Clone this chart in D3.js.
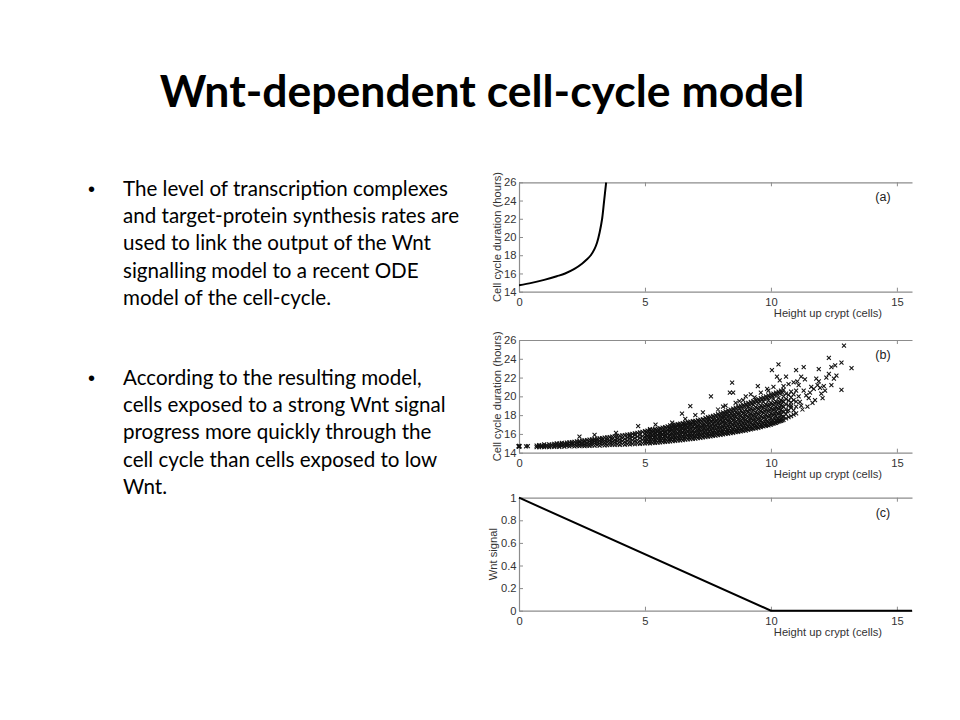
<!DOCTYPE html>
<html><head><meta charset="utf-8">
<script src="https://cdn.jsdelivr.net/npm/d3@7"></script>
<style>body{margin:0;background:#fff;} svg{display:block}</style>
</head><body>
<svg id="c" width="960" height="720"></svg>
<script>
// ---------- data ----------
const titleText = "Wnt-dependent cell-cycle model";
const bullet1 = ["The level of transcription complexes",
  "and target-protein synthesis rates are",
  "used to link the output of the Wnt",
  "signalling model to a recent ODE",
  "model of the cell-cycle."];
const bullet2 = ["According to the resulting model,",
  "cells exposed to a strong Wnt signal",
  "progress more quickly through the",
  "cell cycle than cells exposed to low",
  "Wnt."];
const xLabel = "Height up crypt (cells)";
const durationLabel = "Cell cycle duration (hours)";
const wntLabel = "Wnt signal";
const xTicks = [0, 5, 10, 15];
const durationTicks = [14, 16, 18, 20, 22, 24, 26];
const wntTicks = [0, 0.2, 0.4, 0.6, 0.8, 1];
const wntTickLabels = ["0", "0.2", "0.4", "0.6", "0.8", "1"];

// (a) deterministic cycle duration vs height
const curveX = [0, 0.5, 1, 1.5, 1.83, 2.2, 2.5, 2.7, 2.85, 3.0, 3.1, 3.2, 3.3, 3.38, 3.46];
const curveY = [14.7, 14.97, 15.3, 15.7, 16.0, 16.5, 17.07, 17.55, 18.0, 18.7, 19.4, 20.5, 22.0, 24.0, 26.0];

// (b) simulated cells: columns [x, y1, y2, ...]
const scatterCols = [
[0.7,14.6,14.75],[0.8,14.58,14.7,14.8],[0.9,14.62,14.78],[1.0,14.6,14.72,14.88],
[1.1,14.65,14.82],[1.2,14.6,14.74,14.9],[1.3,14.66,14.85],[1.4,14.62,14.76,14.95],
[1.5,14.68,14.88,14.98],[1.6,14.63,14.8,14.96],[1.7,14.7,14.9,15.05],[1.8,14.65,14.82,15.0],
[1.9,14.72,14.92,15.08],[2.0,14.67,14.85,15.1],[2.1,14.74,14.95,15.12],[2.2,14.68,14.88,15.16],
[2.3,14.72,14.98,15.2],[2.4,14.7,14.9,15.1,15.24],[2.5,14.75,15.0,15.28],[2.6,14.71,14.92,15.14,15.3],
[2.7,14.76,15.02,15.34],[2.8,14.72,14.95,15.18,15.38],[2.9,14.78,15.05,15.28,15.42],[3.0,14.74,14.98,15.22,15.45],
[3.1,14.8,15.08,15.3,15.5],[3.2,14.76,15.0,15.25,15.52],[3.3,14.82,15.1,15.35,15.56],[3.4,14.78,15.04,15.28,15.6],
[3.5,14.8,15.12,15.4,15.62],[3.6,14.82,15.06,15.32,15.66],[3.7,14.86,15.15,15.45,15.7],[3.8,14.82,15.1,15.36,15.74],
[3.9,14.88,15.2,15.5,15.78],[4.0,14.84,15.12,15.42,15.8],[4.1,14.9,15.22,15.55,15.84],[4.2,14.86,15.16,15.48,15.88],
[4.3,14.92,15.25,15.6,15.92],[4.4,14.88,15.2,15.52,15.8,15.96],[4.5,14.95,15.3,15.65,16.0],[4.6,14.9,15.22,15.56,15.86,16.05],
[4.7,14.98,15.32,15.7,16.1],[4.8,14.94,15.26,15.6,15.92,16.16],[4.9,15.0,15.36,15.75,16.22],[5.0,14.98,15.3,15.66,16.0,16.3],
[5.1,15.02,15.4,15.8,16.35],[5.2,15.0,15.34,15.7,16.05,16.4],[5.3,15.05,15.44,15.85,16.2,16.45],[5.4,15.04,15.38,15.74,16.1,16.5],
[5.5,15.08,15.48,15.9,16.28,16.55],[5.6,15.1,15.42,15.8,16.15,16.6],[5.7,15.12,15.52,15.95,16.35,16.66],[5.8,15.14,15.46,15.85,16.22,16.72],
[5.9,15.18,15.56,16.0,16.42,16.8],[6.0,15.2,15.5,15.9,16.3,16.6,16.9],[6.1,15.24,15.62,16.05,16.48,16.95],[6.2,15.26,15.56,15.95,16.36,16.7,17.0],
[6.3,15.3,15.68,16.1,16.55,17.05],[6.4,15.32,15.62,16.02,16.42,16.8,17.1],[6.5,15.35,15.74,16.18,16.6,17.15],[6.6,15.38,15.68,16.08,16.5,16.9,17.2],
[6.7,15.42,15.8,16.25,16.68,17.25],[6.8,15.45,15.74,16.14,16.56,17.0,17.3],[6.9,15.48,15.86,16.3,16.75,17.35],[7.0,15.5,15.8,16.2,16.62,17.05,17.4],
[7.1,15.55,15.92,16.38,16.82,17.46],[7.2,15.58,15.86,16.26,16.7,17.15,17.52],[7.3,15.62,16.0,16.45,16.9,17.58],[7.4,15.65,15.94,16.34,16.78,17.25,17.7],
[7.5,15.7,16.06,16.52,16.98,17.4,17.8],[7.6,15.74,16.0,16.42,16.86,17.3,17.85],[7.7,15.78,16.12,16.6,17.08,17.5,17.92],[7.8,15.82,16.08,16.5,16.95,17.4,18.0],
[7.9,15.86,16.2,16.68,17.15,17.6,18.1],[8.0,15.9,16.15,16.58,17.05,17.5,18.2],[8.1,15.95,16.28,16.76,17.25,17.72,18.3],[8.2,16.0,16.24,16.66,17.12,17.6,18.05,18.4],
[8.3,16.04,16.36,16.85,17.35,17.85,18.5],[8.4,16.08,16.32,16.75,17.22,17.7,18.15,18.6],[8.5,16.12,16.46,16.95,17.45,17.95,18.7],[8.6,16.18,16.4,16.85,17.32,17.82,18.3,18.8],
[8.7,16.22,16.56,17.05,17.55,18.1,18.9],[8.8,16.28,16.5,16.95,17.42,17.92,18.45,19.0],[8.9,16.32,16.66,17.15,17.66,18.2,19.1],[9.0,16.36,16.6,17.05,17.52,18.05,18.6,19.2],
[9.1,16.42,16.8,17.3,17.8,18.35,18.9,19.3],[9.2,16.48,16.72,17.18,17.65,18.15,18.7,19.4],[9.3,16.55,16.95,17.45,17.95,18.5,19.1,19.5],[9.4,16.6,16.85,17.3,17.78,18.3,18.85,19.6],
[9.5,16.65,17.05,17.55,18.1,18.65,19.25,19.7],[9.6,16.72,16.98,17.42,17.92,18.45,19.0,19.8],[9.7,16.8,17.15,17.7,18.25,18.8,19.4,19.9],[9.8,16.86,17.1,17.55,18.05,18.6,19.15,20.0],
[9.9,16.92,17.3,17.85,18.4,18.95,19.55,20.1],[10.0,17.0,17.25,17.7,18.2,18.75,19.3,20.2],[10.1,17.1,17.45,18.0,18.55,19.1,19.7,20.3],[10.2,17.18,17.42,17.9,18.4,18.9,19.45,20.4],
[10.3,17.3,17.65,18.15,18.7,19.25,19.85,20.5],[10.4,17.4,17.6,18.05,18.55,19.1,19.6,20.6],[10.5,17.5,17.85,18.35,18.9,19.45,20.0,20.7],[10.6,17.65,18.1,18.6,19.15,19.7,20.3],
[10.7,17.8,18.5,19.0,19.55,20.15],[10.8,17.9,18.8,19.35,19.9,20.5],[10.9,18.05,18.5,19.6,20.2],[11.0,18.2,18.9,19.45,20.6],
[5.05,15.15,15.52,15.9,16.2],[5.15,15.18,15.58,15.95,16.25],[5.25,15.2,15.6,15.98,16.3],[5.35,15.22,15.62,16.0,16.35],
[5.45,15.25,15.65,16.05,16.4],[5.55,15.28,15.68,16.08,16.45],[5.65,15.3,15.72,16.12,16.5],[5.75,15.32,15.75,16.15,16.55],
[5.85,15.35,15.78,16.2,16.6],[5.95,15.38,15.8,16.22,16.65],[6.05,15.4,15.75,16.15,16.55,16.8],[6.15,15.42,15.8,16.2,16.62,16.85],
[6.25,15.45,15.85,16.25,16.68,16.9],[6.35,15.48,15.88,16.3,16.72,16.95],[6.45,15.5,15.92,16.35,16.78,17.0],[6.55,15.55,15.95,16.4,16.82,17.05],
[6.65,15.58,16.0,16.42,16.85,17.1],[6.75,15.62,16.02,16.46,16.9,17.15],[6.85,15.65,16.06,16.5,16.95,17.2],[6.95,15.68,16.1,16.55,17.0,17.25],
[7.05,15.7,16.05,16.45,16.85,17.25],[7.15,15.74,16.12,16.52,16.95,17.32],[7.25,15.78,16.15,16.58,17.0,17.38],[7.35,15.8,16.2,16.62,17.05,17.45],
[7.45,15.84,16.24,16.68,17.12,17.55],[7.55,15.88,16.28,16.72,17.18,17.6],[7.65,15.92,16.32,16.78,17.25,17.68],[7.75,15.95,16.36,16.82,17.3,17.75],
[7.85,16.0,16.4,16.88,17.35,17.82],[7.95,16.04,16.45,16.92,17.4,17.9],[8.05,16.06,16.4,16.85,17.3,17.75,18.05],[8.15,16.1,16.46,16.92,17.38,17.85,18.15],
[8.25,16.14,16.5,16.98,17.45,17.95,18.25],[8.35,16.18,16.56,17.02,17.5,18.0,18.35],[8.45,16.22,16.6,17.08,17.58,18.05,18.45],[8.55,16.26,16.66,17.15,17.62,18.12,18.5],
[8.65,16.3,16.7,17.2,17.7,18.2,18.6],[8.75,16.35,16.75,17.25,17.75,18.25,18.7],[8.85,16.4,16.82,17.3,17.8,18.32,18.8],[8.95,16.45,16.86,17.36,17.88,18.4,18.9],
[9.05,16.5,16.9,17.4,17.92,18.45,19.0],[9.15,16.55,16.96,17.48,18.0,18.55,19.1],[9.25,16.6,17.02,17.55,18.05,18.6,19.2],[9.35,16.66,17.08,17.6,18.12,18.68,19.3],
[9.45,16.72,17.15,17.66,18.2,18.75,19.4],[9.55,16.78,17.2,17.72,18.28,18.82,19.5],[9.65,16.85,17.25,17.8,18.35,18.9,19.6],[9.75,16.9,17.32,17.85,18.42,18.98,19.7],
[9.85,16.96,17.4,17.92,18.5,19.05,19.8],[9.95,17.02,17.45,18.0,18.55,19.12,19.9],[10.05,17.1,17.52,18.08,18.62,19.2,20.0],[10.15,17.18,17.6,18.15,18.7,19.28,20.1],
[10.25,17.26,17.68,18.22,18.78,19.35,20.2],[10.35,17.35,17.75,18.3,18.85,19.42,20.3],[10.45,17.45,17.85,18.4,18.95,19.5,20.4]
];
// (b) sparse cells and outliers [x, y]
const scatterExtra = [
[0,14.67],[0.02,14.7],[0.01,14.64],[-0.02,14.68],[0.0,14.72],[0.28,14.68],[0.35,14.7],
[2.4,15.7],[3.0,15.9],[3.85,16.1],[4.73,16.84],[5.2,16.5],[5.42,17.0],[6.08,17.2],[6.47,18.15],[6.8,18.96],
[7.62,20.0],[8.37,20.4],[8.5,20.4],[8.46,21.45],[9.48,21.1],[9.85,20.8],[10.04,22.8],[10.24,22.1],[10.3,23.4],
[10.1,21.0],[10.35,21.7],[10.6,22.1],[11.0,22.8],[11.1,21.2],[11.2,22.1],[11.3,23.1],[11.4,20.1],[11.7,20.8],
[11.75,19.6],[11.8,21.9],[11.9,21.6],[11.9,22.9],[12.0,20.3],[12.3,24.1],[12.3,22.4],[12.4,23.1],[12.4,21.2],
[12.5,21.9],[12.55,23.3],[12.8,23.6],[12.8,20.7],[12.9,25.4],[13.2,23.0],
[11.2,19.0],[11.5,19.8],[11.3,20.6],[11.6,21.0],[11.1,20.0],[11.45,18.9],[11.25,18.6],[11.55,20.4],[12.1,21.1],
[12.2,22.0],[11.95,20.9],[11.65,19.3],[12.05,19.8],[11.85,21.2],[12.6,22.2],[12.15,20.6],[11.05,21.6],[11.35,21.8],
[10.9,21.5],[10.7,21.3],[10.5,21.1],[9.2,20.2],[9.6,20.4],[8.9,19.6],[8.6,19.3],[8.1,18.9],[7.3,18.3],[7.0,18.0],
[6.6,17.6],[7.9,18.6],[9.0,20.0],[9.9,20.6],[9.35,19.9],[8.2,19.0],[8.75,19.5],[10.8,19.0],[10.65,18.4],[11.15,19.4]
];

// (c) Wnt signal along crypt
const wntX = [0, 10, 15.6];
const wntY = [1, 0, 0];

// ---------- drawing ----------
const svg = d3.select("#c");
const axisFont = "'Liberation Sans', Arial, sans-serif";
const textFont = "Lato, 'Open Sans', sans-serif";
const axisFs = 11.2;

// title
const title = svg.append("text").attr("x", 482).attr("y", 107)
  .attr("text-anchor", "middle").attr("font-family", textFont)
  .attr("font-weight", 700).attr("font-size", 40).attr("fill", "#000").text(titleText);
{ const w = title.node().getComputedTextLength(); title.attr("font-size", 40 * 645 / w); }

// bullets
function bullets(lines, y0) {
  svg.append("text").attr("x", 88).attr("y", y0).attr("font-family", "Arial, sans-serif")
    .attr("font-size", 20).attr("fill", "#000").text("•");
  const t = svg.append("text").attr("font-family", textFont).attr("fill", "#000");
  lines.forEach((l, i) => t.append("tspan").attr("x", 123).attr("y", y0 + i * 27.2).text(l));
  return t;
}
const b1 = bullets(bullet1, 196);
const b2 = bullets(bullet2, 385);
b1.attr("font-size", 20); b2.attr("font-size", 20);
{ const w = b1.select("tspan").node().getComputedTextLength();
  const fs = 20 * 325 / w; b1.attr("font-size", fs); b2.attr("font-size", fs); }

const x = d3.scaleLinear().domain([0, 15.6]).range([519, 912]);
const grey = "#8c8c8c";

function panel(top, bottom, yDomain, yTicks, yFmt, yLabel, yLabelX, tag) {
  const y = d3.scaleLinear().domain(yDomain).range([bottom, top]);
  const g = svg.append("g");
  const style = sel => {
    sel.selectAll("path.domain").attr("stroke", grey).attr("stroke-width", 1.2);
    sel.selectAll(".tick line").attr("stroke", grey);
    sel.selectAll(".tick text").attr("fill", "#333").attr("font-family", axisFont).attr("font-size", axisFs);
  };
  g.append("g").attr("transform", `translate(0,${bottom})`)
    .call(d3.axisBottom(x).tickValues(xTicks).tickSizeInner(-4).tickSizeOuter(0).tickPadding(6).tickFormat(d3.format("d")))
    .call(style);
  g.append("g").attr("transform", `translate(0,${top})`)
    .call(d3.axisTop(x).tickValues(xTicks).tickSizeInner(-4).tickSizeOuter(0).tickFormat(""))
    .call(style);
  g.append("g").attr("transform", `translate(${x(0)},0)`)
    .call(d3.axisLeft(y).tickValues(yTicks).tickSizeInner(-4).tickSizeOuter(0).tickPadding(2.5).tickFormat(yFmt))
    .call(style);
  g.selectAll(".domain").attr("fill", "none");
  g.append("text").attr("x", 882).attr("y", bottom + 25).attr("text-anchor", "end")
    .attr("font-family", axisFont).attr("font-size", axisFs).attr("fill", "#333").text(xLabel);
  g.append("text").attr("transform", `translate(${yLabelX},${(top + bottom) / 2}) rotate(-90)`)
    .attr("text-anchor", "middle").attr("dy", "0.35em")
    .attr("font-family", axisFont).attr("font-size", axisFs).attr("fill", "#333").text(yLabel);
  g.append("text").attr("x", 883).attr("y", top + 19).attr("text-anchor", "middle")
    .attr("font-family", axisFont).attr("font-size", 12.5).attr("fill", "#222").text(tag);
  return { g, y };
}

// (a)
const pa = panel(182.3, 291.7, [14, 26], durationTicks, d3.format("d"), durationLabel, 497, "(a)");
svg.append("clipPath").attr("id", "clipA").append("rect")
  .attr("x", 519).attr("y", 182.3).attr("width", 393).attr("height", 109.4);
pa.g.append("path").datum(curveX.map((v, i) => [v, curveY[i]]))
  .attr("clip-path", "url(#clipA)")
  .attr("fill", "none").attr("stroke", "#000").attr("stroke-width", 2)
  .attr("d", d3.line().x(d => x(d[0])).y(d => pa.y(d[1])).curve(d3.curveCatmullRom.alpha(0.5)));

// (b)
const pb = panel(340, 452.7, [14, 26], durationTicks, d3.format("d"), durationLabel, 497, "(b)");
const pts = [];
scatterCols.forEach(c => c.slice(1).forEach(v => pts.push([c[0], v])));
scatterExtra.forEach(p => pts.push(p));
const s = 2.0;
pb.g.append("g").selectAll("path").data(pts).join("path")
  .attr("transform", d => `translate(${x(d[0])},${pb.y(d[1])})`)
  .attr("d", `M${-s},${-s}L${s},${s}M${-s},${s}L${s},${-s}`)
  .attr("stroke", "#111").attr("stroke-width", 1.05).attr("fill", "none");

// (c)
const pc = panel(497.7, 610.7, [0, 1], wntTicks, (d, i) => wntTickLabels[i], wntLabel, 493, "(c)");
pc.g.append("path").datum(wntX.map((v, i) => [v, wntY[i]]))
  .attr("fill", "none").attr("stroke", "#000").attr("stroke-width", 2)
  .attr("d", d3.line().x(d => x(d[0])).y(d => pc.y(d[1])));
</script>
</body></html>
